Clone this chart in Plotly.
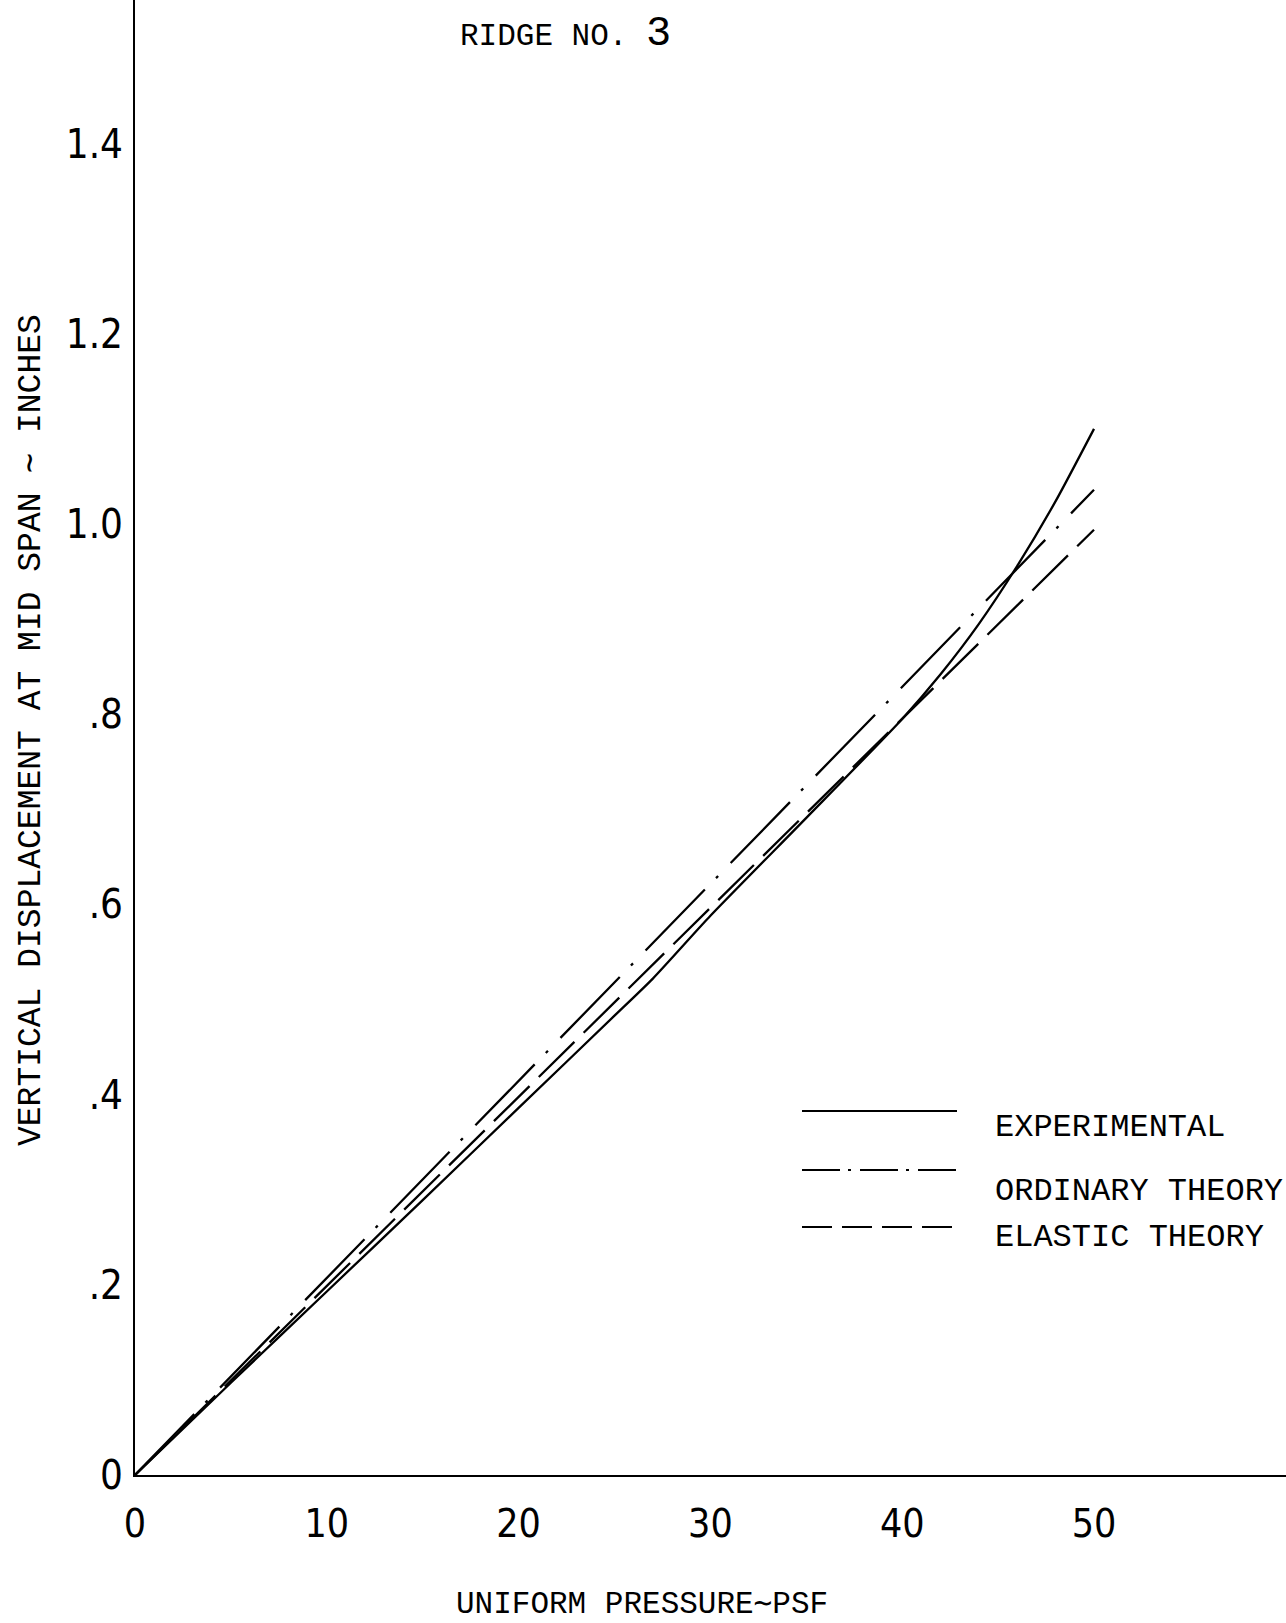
import plotly.graph_objects as go

# Mid-span deflection of ridge no. 3 under uniform pressure
pressure_exp = [0, 5, 10, 15, 20, 25, 27, 30, 35, 40, 42, 44, 46, 48, 50]
disp_exp = [0, 0.097, 0.193, 0.289, 0.386, 0.483, 0.522, 0.588, 0.691, 0.795,
            0.842, 0.895, 0.956, 1.024, 1.100]

pressure_theory = [0, 10, 20, 30, 40, 50]
disp_ordinary = [0, 0.207, 0.414, 0.622, 0.829, 1.036]
disp_elastic = [0, 0.199, 0.398, 0.597, 0.795, 0.994]

x_ticks = [0, 10, 20, 30, 40, 50]
y_ticks = [0, 0.2, 0.4, 0.6, 0.8, 1.0, 1.2, 1.4]
y_tick_text = ["0", ".2", ".4", ".6", ".8", "1.0", "1.2", "1.4"]

series_names = ["EXPERIMENTAL", "ORDINARY THEORY", "ELASTIC THEORY"]

LABEL_FONT = "Liberation Mono, DejaVu Sans Mono, monospace"
NUM_FONT = "Liberation Sans Narrow, DejaVu Sans Condensed, Liberation Sans, sans-serif"

W, H = 1286, 1623
L, B = 135, 148
plot_w, plot_h = W - L, H - B

DASH_ORD = "85px,16px,3px,18px"
DASH_ELA = "50px,13px"

fig = go.Figure()
fig.add_trace(go.Scatter(x=pressure_exp, y=disp_exp, mode="lines",
                         line=dict(color="black", width=2.3, shape="spline", smoothing=0.6),
                         name=series_names[0], showlegend=False))
fig.add_trace(go.Scatter(x=pressure_theory, y=disp_ordinary, mode="lines",
                         line=dict(color="black", width=2.3, dash=DASH_ORD),
                         name=series_names[1], showlegend=False))
fig.add_trace(go.Scatter(x=pressure_theory, y=disp_elastic, mode="lines",
                         line=dict(color="black", width=2.3, dash=DASH_ELA),
                         name=series_names[2], showlegend=False))


def px_x(px):
    return (px - L) / plot_w


def px_y(py):
    return (plot_h - py) / plot_h


# hand-drawn style key: long line samples with labels to the right
key_rows = [
    (1111, 1127, None),
    (1170, 1191, "38px,8px,3px,9px"),
    (1227, 1237, "30px,10px"),
]
shapes = []
annotations = []
for (ly, ty, dash), label in zip(key_rows, series_names):
    line = dict(color="black", width=2.2)
    if dash:
        line["dash"] = dash
    shapes.append(dict(type="line", xref="paper", yref="paper",
                       x0=px_x(802), x1=px_x(957), y0=px_y(ly), y1=px_y(ly), line=line))
    annotations.append(dict(text=label, xref="paper", yref="paper",
                            x=px_x(993), y=px_y(ty), xanchor="left", yanchor="middle",
                            showarrow=False, font=dict(family=LABEL_FONT, size=32, color="black")))

annotations.append(dict(text="RIDGE NO. <span style='font-size:42px'>3</span>",
                        xref="paper", yref="paper", x=px_x(458), y=px_y(34),
                        xanchor="left", yanchor="middle", showarrow=False,
                        font=dict(family=LABEL_FONT, size=31, color="black")))
annotations.append(dict(text="UNIFORM PRESSURE∼PSF", xref="paper", yref="paper",
                        x=px_x(642), y=px_y(1604), xanchor="center", yanchor="middle",
                        showarrow=False, font=dict(family=LABEL_FONT, size=31, color="black")))
annotations.append(dict(text="VERTICAL DISPLACEMENT AT MID SPAN ∼ INCHES",
                        xref="paper", yref="paper", x=px_x(31), y=px_y(730),
                        xanchor="center", yanchor="middle", textangle=-90,
                        showarrow=False, font=dict(family=LABEL_FONT, size=33, color="black")))

fig.update_layout(
    width=W, height=H, autosize=False,
    margin=dict(l=L, r=0, t=0, b=B, pad=0),
    paper_bgcolor="white", plot_bgcolor="white",
    shapes=shapes, annotations=annotations,
    xaxis=dict(range=[0, plot_w / 19.18], tickvals=x_ticks, ticktext=[str(v) for v in x_ticks],
               showgrid=False, zeroline=False, showline=True, linecolor="black", linewidth=2,
               ticks="", ticklabelstandoff=13,
               tickfont=dict(family=NUM_FONT, size=39, color="black")),
    yaxis=dict(range=[0, plot_h / 951.0], tickvals=y_ticks, ticktext=y_tick_text,
               showgrid=False, zeroline=False, showline=True, linecolor="black", linewidth=2,
               ticks="", ticklabelstandoff=2,
               tickfont=dict(family=NUM_FONT, size=40, color="black")),
)

fig.write_html("out.html")
